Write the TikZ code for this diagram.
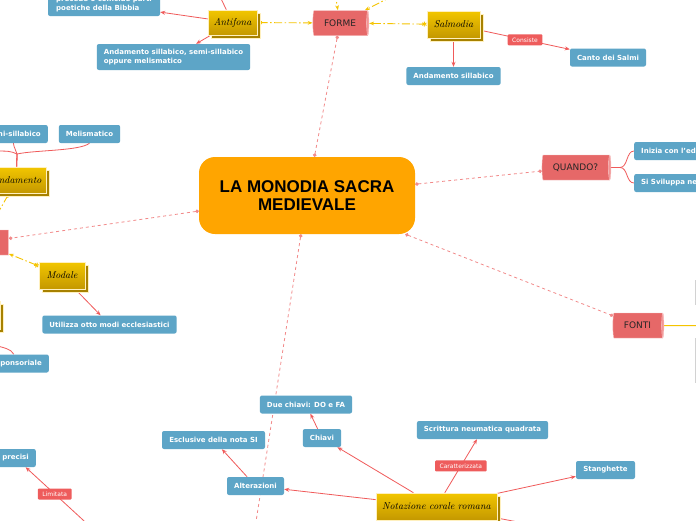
\documentclass[tikz,border=0pt]{standalone}
\usepackage{fontspec}
\setsansfont{DejaVu Sans}
\newfontfamily\titlefont{Liberation Sans}
\usetikzlibrary{shapes.geometric}
\usetikzlibrary{shadows}
\usetikzlibrary{arrows.meta}
\usetikzlibrary{backgrounds}

\definecolor{boxblue}{RGB}{93,165,199}
\definecolor{mainorange}{RGB}{255,165,0}
\definecolor{cylred}{RGB}{230,104,104}
\definecolor{cylend}{RGB}{242,150,150}
\definecolor{goldtop}{RGB}{242,198,0}
\definecolor{goldbot}{RGB}{196,152,0}
\definecolor{goldedge}{RGB}{255,240,190}
\definecolor{linkred}{RGB}{240,90,90}
\definecolor{linkpink}{RGB}{242,138,138}
\definecolor{linkyellow}{RGB}{245,196,0}
\definecolor{labred}{RGB}{238,92,92}

\begin{document}
\begin{tikzpicture}[x=1pt,y=-1pt,
    mainbox/.style={rounded corners=16pt,fill=mainorange,minimum width=216pt,
      minimum height=77pt,align=center,font=\titlefont\bfseries\fontsize{17}{18}\selectfont},
    cyl/.style={cylinder,shape border rotate=0,aspect=0.25,cylinder uses custom fill,
      cylinder body fill=cylred,cylinder end fill=cylend,draw=cylend!60!white,
      inner sep=1pt,minimum width=25pt,font=\sffamily\fontsize{9}{10}\selectfont,text=black!85},
    yellowbox/.style={draw=goldedge,line width=0.6pt,top color=goldtop,bottom color=goldbot,
      general shadow={fill=goldbot!85!black,draw=goldedge,shadow xshift=3pt,shadow yshift=-3pt},
      inner sep=2pt,font=\itshape\fontsize{10}{11}\selectfont},
    bluebox/.style={fill=boxblue,rounded corners=2pt,text=white,
      font=\sffamily\bfseries\fontsize{7}{9}\selectfont,inner xsep=7pt,inner ysep=2pt,minimum height=18pt},
    redtag/.style={fill=labred,rounded corners=1pt,text=white,
      font=\sffamily\fontsize{6}{7}\selectfont,inner xsep=4.5pt,inner ysep=1pt,minimum height=11pt},
    mainlink/.style={draw=linkpink,line width=0.8pt,dash pattern=on 3pt off 3pt,
      {Circle[length=3.5pt]}-{Circle[length=3.5pt]}},
    sublink/.style={draw=linkyellow,line width=0.9pt,dash pattern=on 8pt off 2.5pt on 1.5pt off 2.5pt,
      {Rays[n=6,length=5pt]}-{Stealth[length=5pt]}},
    fontline/.style={draw=linkyellow,line width=1pt},
    arrowlink/.style={draw=linkred,line width=0.8pt,-{Stealth[length=5pt,width=4pt]}},
    treeline/.style={draw=linkred,line width=0.8pt}]
\useasboundingbox (0,0) rectangle (696,520);

% centro
\node[mainbox] (monodia) at (307,195.5) {LA MONODIA SACRA\\MEDIEVALE};

% rami principali
\node[cyl,minimum height=56pt] (forme) at (340,23) {FORME};
\node[cyl,minimum height=69pt] (quando) at (575.5,167.5) {QUANDO?};
\node[cyl,minimum height=51pt] (fonti) at (637.5,325.5) {FONTI};
\node[cyl,minimum height=55pt] (altro) at (-19,242.5) {};

% forme
\node[yellowbox,minimum width=49pt,minimum height=25pt] (antifona) at (232.5,22.5) {Antifona};
\node[yellowbox,minimum width=53pt,minimum height=27pt] (salmodia) at (453.5,24.5) {Salmodia};
\node[bluebox,minimum width=112pt,minimum height=24pt,align=left] (bibbia) at (104,4)
  {precede o coincide parti\\poetiche della Bibbia};
\node[bluebox,minimum width=153pt,minimum height=26pt,align=left] (antand) at (173.5,57)
  {Andamento sillabico, semi-sillabico\\oppure melismatico};
\node[bluebox,minimum width=93pt] (salmand) at (453.5,76) {Andamento sillabico};
\node[bluebox,minimum width=76pt] (salmi) at (608,57.5) {Canto dei Salmi};
\coordinate (formesu1) at (332,-25);
\coordinate (formesu2) at (420,-18);
\coordinate (antisu) at (212,-20);

% quando
\node[bluebox,anchor=west,text width=70pt,align=left] (inizia) at (634,151) {Inizia con l'ed};
\node[bluebox,anchor=west,text width=70pt,align=left] (sviluppa) at (634,183) {Si Sviluppa ne};

% fonti
\node[draw=gray!35,fill=white,anchor=west,minimum width=48pt,minimum height=24pt] (fonti1) at (695,292) {};
\node[draw=gray!35,fill=white,anchor=west,minimum width=48pt,minimum height=44pt] (fonti2) at (695,360) {};
\coordinate (fontidx) at (700,325.5);

% sinistra
\node[yellowbox,anchor=east,minimum width=60pt,minimum height=26pt] (andamento) at (47,180) {Andamento};
\node[bluebox,anchor=east] (semisill) at (48,134) {Semi-sillabico};
\node[bluebox,minimum width=61pt] (melisma) at (89.5,134) {Melismatico};
\coordinate (sillabico) at (-10,151);
\node[yellowbox,minimum width=46pt,minimum height=27pt] (modale) at (62,275.5) {Modale};
\node[bluebox,minimum width=133pt] (otto) at (109.5,324.5) {Utilizza otto modi ecclesiastici};
\node[yellowbox,anchor=east,minimum width=50pt,minimum height=28pt] (stile) at (1,315) {};
\node[bluebox,anchor=east] (respons) at (49,363.5) {Responsoriale};

% notazione
\node[yellowbox,minimum width=121pt,minimum height=27pt] (notazione) at (436.5,506.5) {Notazione corale romana};
\node[bluebox,minimum width=92pt] (duechiavi) at (306,404.5) {Due chiavi: DO e FA};
\node[bluebox,minimum width=38pt] (chiavi) at (322,438) {Chiavi};
\node[bluebox,minimum width=103pt] (esclusive) at (213.5,440) {Esclusive della nota SI};
\node[bluebox,minimum width=57pt] (alteraz) at (255.5,486) {Alterazioni};
\node[bluebox,anchor=east] (precisi) at (36,458) {precisi};
\node[bluebox,minimum width=131pt] (scrittura) at (482.5,430) {Scrittura neumatica quadrata};
\node[bluebox,minimum width=59pt] (stanghette) at (605.5,470) {Stanghette};
\coordinate (notagiu) at (250,560);
\coordinate (limsrc) at (95,531);
\coordinate (notadx) at (560,530);

\begin{scope}[on background layer]
\fill[white] (0,0) rectangle (696,520);
\draw[mainlink] (monodia) -- (forme);
\draw[mainlink] (monodia) -- (quando);
\draw[mainlink] (monodia) -- (fonti);
\draw[mainlink] (monodia) -- (altro);
\draw[mainlink] (monodia) -- (notagiu);

\draw[sublink] (antifona) -- (forme);
\draw[sublink] (salmodia) -- (forme);
\draw[sublink] (formesu1) -- (forme);
\draw[sublink] (formesu2) -- (forme);
\draw[sublink] (modale) -- (altro);
\draw[sublink] (andamento) -- (altro);
\draw[sublink] (stile) -- (altro);
\draw[fontline] (fonti) -- (fontidx);

\draw[treeline] (antifona) -- (antisu);
\draw[arrowlink] (antifona) -- (bibbia);
\draw[arrowlink] (antifona) -- (antand);
\draw[arrowlink] (salmodia) -- (salmand);
\draw[arrowlink] (salmodia) -- node[redtag] {Consiste} (salmi);

\draw[treeline] (quando.east) -- (620,167.5) .. controls (628,167.5) and (626,151) .. (inizia.west);
\draw[treeline] (quando.east) -- (620,167.5) .. controls (628,167.5) and (626,183) .. (sviluppa.west);

\draw[treeline] (andamento.north) -- (17,154) .. controls (16,150) and (14,148) .. (semisill.south);
\draw[treeline] (andamento.north) -- (17,154) .. controls (35,150) and (80,151) .. (melisma.south);
\draw[treeline] (andamento.north) -- (17,154) .. controls (10,151) .. (sillabico);
\draw[arrowlink] (modale) -- (otto);
\draw[treeline] (stile.south) .. controls (-18,350) and (8,343) .. (respons.north);

\draw[arrowlink] (notazione) -- (chiavi);
\draw[arrowlink] (notazione) -- (alteraz);
\draw[arrowlink] (notazione) -- node[redtag] {Caratterizzata} (scrittura);
\draw[arrowlink] (notazione) -- (stanghette);
\draw[treeline] (notazione) -- (notadx);
\draw[arrowlink] (alteraz) -- (esclusive);
\draw[arrowlink] (chiavi) -- (duechiavi);
\draw[arrowlink] (limsrc) -- node[redtag,pos=0.58] {Limitata} (precisi);
\end{scope}
\end{tikzpicture}
\end{document}
